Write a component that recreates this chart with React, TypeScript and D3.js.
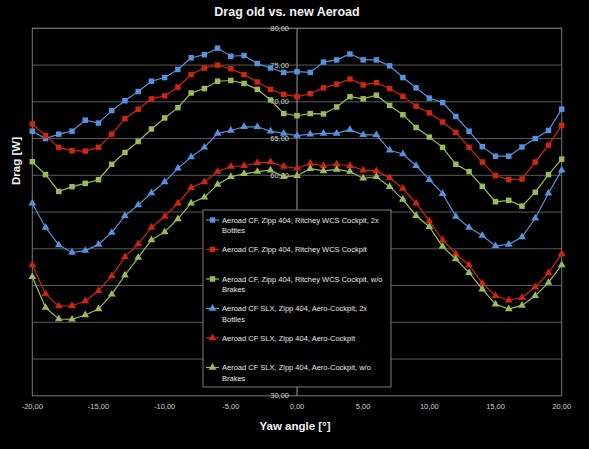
import React from 'react'
import * as d3 from 'd3'

const yaw = d3.range(-20, 21)

const cfBottles = [66.0, 65.0, 65.6, 66.0, 67.5, 67.1, 68.8, 70.15, 71.4, 72.8, 73.3, 74.4, 76.0, 76.4, 77.3, 76.2, 76.3, 75.2, 74.6, 74.0, 74.1, 74.0, 75.4, 75.7, 76.5, 75.7, 75.7, 74.9, 73.3, 71.9, 70.5, 69.9, 68.0, 66.0, 63.9, 62.6, 62.6, 63.85, 65.0, 66.1, 69.0]
const cf = [67.0, 65.4, 63.8, 63.35, 63.3, 63.8, 65.6, 67.7, 69.0, 70.4, 70.8, 72.0, 73.7, 74.6, 75.0, 74.5, 73.7, 72.7, 71.7, 71.0, 70.7, 71.1, 71.9, 72.4, 73.1, 72.3, 72.6, 71.8, 70.75, 69.4, 68.5, 67.25, 65.85, 63.8, 61.8, 59.95, 59.4, 59.5, 61.8, 64.1, 66.8]
const cfNoBrakes = [61.85, 60.1, 57.8, 58.45, 58.9, 59.4, 61.5, 63.1, 64.6, 66.3, 67.8, 69.2, 71.2, 71.8, 72.8, 72.9, 72.5, 71.7, 70.25, 68.4, 68.1, 68.4, 68.35, 69.3, 70.7, 70.4, 70.9, 69.5, 68.25, 66.5, 65.2, 63.8, 61.5, 60.5, 58.5, 56.4, 56.6, 55.8, 57.7, 60.1, 62.2]
const slxBottles = [56.2, 52.9, 50.5, 49.5, 49.75, 50.6, 52.2, 54.5, 55.95, 57.6, 59.1, 60.95, 62.5, 63.8, 65.7, 66.1, 66.6, 66.6, 66.0, 65.7, 65.4, 65.6, 65.7, 65.7, 66.2, 65.5, 65.5, 63.4, 62.9, 61.3, 59.4, 57.5, 54.4, 52.9, 51.8, 50.4, 50.6, 51.6, 54.15, 57.55, 60.7]
const slx = [47.8, 43.85, 42.2, 42.25, 42.9, 44.3, 46.3, 48.9, 50.65, 52.9, 54.4, 56.2, 58.3, 59.1, 60.5, 61.2, 61.3, 61.7, 61.8, 61.2, 60.95, 61.6, 61.3, 61.5, 61.3, 60.7, 60.6, 59.65, 58.2, 56.2, 53.8, 51.2, 49.3, 47.8, 45.3, 43.6, 43.0, 43.35, 44.8, 46.7, 49.3]
const slxNoBrakes = [46.2, 42.0, 40.45, 40.4, 41.0, 41.8, 43.8, 46.4, 48.8, 51.2, 52.3, 54.05, 56.2, 57.0, 58.75, 59.8, 60.2, 60.5, 60.7, 59.8, 59.95, 60.9, 60.6, 60.8, 60.5, 59.6, 59.8, 58.45, 56.7, 54.5, 53.0, 50.3, 48.6, 46.75, 44.5, 42.45, 41.8, 42.3, 43.6, 45.4, 47.8]

const seriesNames = [
  ['Aeroad CF, Zipp 404, Ritchey WCS Cockpit, 2x', 'Bottles'],
  ['Aeroad CF, Zipp 404, Ritchey WCS Cockpit'],
  ['Aeroad CF, Zipp 404, Ritchey WCS Cockpit, w/o', 'Brakes'],
  ['Aeroad CF SLX, Zipp 404, Aero-Cockpit, 2x', 'Bottles'],
  ['Aeroad CF SLX, Zipp 404, Aero-Cockpit'],
  ['Aeroad CF SLX, Zipp 404, Aero-Cockpit, w/o', 'Brakes'],
]

const xTicks = [-20, -15, -10, -5, 0, 5, 10, 15, 20]
const yTicks = [30, 35, 40, 45, 50, 55, 60, 65, 70, 75, 80]
// labels at 35..50 sit behind the legend box in the original
const yLabels = [30, 55, 60, 65, 70, 75, 80]

const blue = '#5591dd'
const red = '#cf2410'
const green = '#9bbb59'

const series = [
  { values: cfBottles, color: blue, shape: 'square' },
  { values: cf, color: red, shape: 'square' },
  { values: cfNoBrakes, color: green, shape: 'square' },
  { values: slxBottles, color: blue, shape: 'triangle' },
  { values: slx, color: red, shape: 'triangle' },
  { values: slxNoBrakes, color: green, shape: 'triangle' },
]

const fmt = (v: number) => v.toFixed(2).replace('.', ',')

export default function App() {
  const W = 589
  const H = 449
  const x = d3.scaleLinear().domain([-20, 20]).range([32.3, 561.7])
  const y = d3.scaleLinear().domain([30, 80]).range([395.8, 28.3])

  const square = d3.symbol().type(d3.symbolSquare).size(30)()
  const triangle = d3.symbol().type(d3.symbolTriangle).size(26)()

  const line = d3
    .line<number>()
    .x((_, i) => x(yaw[i]))
    .y(d => y(d))

  const font = '"Liberation Sans", Arial, sans-serif'

  // legend box
  const lx = 203
  const ly = 210
  const lw = 188
  const lh = 177
  const rowH = 29.5

  return (
    <svg
      width={W}
      height={H}
      style={{ position: 'absolute', left: 0, top: 0, background: '#000', display: 'block' }}
      fontFamily={font}
    >
      <rect x={0} y={0} width={W} height={H} fill="#000" />
      <text x={287} y={16} textAnchor="middle" fill="#f2f2f2" fontSize={12.5} fontWeight="bold">
        Drag old vs. new Aeroad
      </text>

      {/* gridlines */}
      {yTicks.slice(1).map(t => (
        <line key={t} x1={x(-20)} x2={x(20)} y1={y(t)} y2={y(t)} stroke="#5a5a5a" strokeWidth={1} />
      ))}
      <rect
        x={x(-20)}
        y={y(80)}
        width={x(20) - x(-20)}
        height={y(30) - y(80)}
        fill="none"
        stroke="#7a7a7a"
        strokeWidth={1}
      />
      <line x1={x(0)} x2={x(0)} y1={y(80)} y2={y(30)} stroke="#9a9a9a" strokeWidth={1} />

      {yLabels.map(t => (
        <text key={t} x={x(0) - 8} y={y(t)} dy="0.35em" textAnchor="end" fill="#cfcfcf" fontSize={7.5}>
          {fmt(t)}
        </text>
      ))}
      {xTicks.map(t => (
        <text key={t} x={x(t)} y={409} textAnchor="middle" fill="#cfcfcf" fontSize={7.5}>
          {fmt(t)}
        </text>
      ))}

      <text x={295} y={430} textAnchor="middle" fill="#f2f2f2" fontSize={11.5} fontWeight="bold">
        Yaw angle [°]
      </text>
      <text
        transform={`translate(20,161) rotate(-90)`}
        textAnchor="middle"
        fill="#f2f2f2"
        fontSize={11.5}
        fontWeight="bold"
      >
        Drag [W]
      </text>

      {series.map((s, si) => (
        <g key={si}>
          <path d={line(s.values) || ''} fill="none" stroke={s.color} strokeWidth={1.2} />
          {s.values.map((v, i) => (
            <path
              key={i}
              d={(s.shape === 'square' ? square : triangle) || ''}
              transform={`translate(${x(yaw[i])},${y(v)})`}
              fill={s.color}
            />
          ))}
        </g>
      ))}

      {/* legend */}
      <rect x={lx} y={ly} width={lw} height={lh} fill="#000" stroke="#7a7a7a" strokeWidth={1} />
      {series.map((s, si) => {
        const cy = ly + 10 + si * rowH
        return (
          <g key={si}>
            <line x1={lx + 3} x2={lx + 16} y1={cy} y2={cy} stroke={s.color} strokeWidth={1.2} />
            <path
              d={(s.shape === 'square' ? square : triangle) || ''}
              transform={`translate(${lx + 9.5},${cy})`}
              fill={s.color}
            />
            {seriesNames[si].map((txt, li) => (
              <text key={li} x={lx + 19} y={cy + li * 10.5} dy="0.35em" fill="#e6e6e6" fontSize={7.5}>
                {txt}
              </text>
            ))}
          </g>
        )
      })}
    </svg>
  )
}
